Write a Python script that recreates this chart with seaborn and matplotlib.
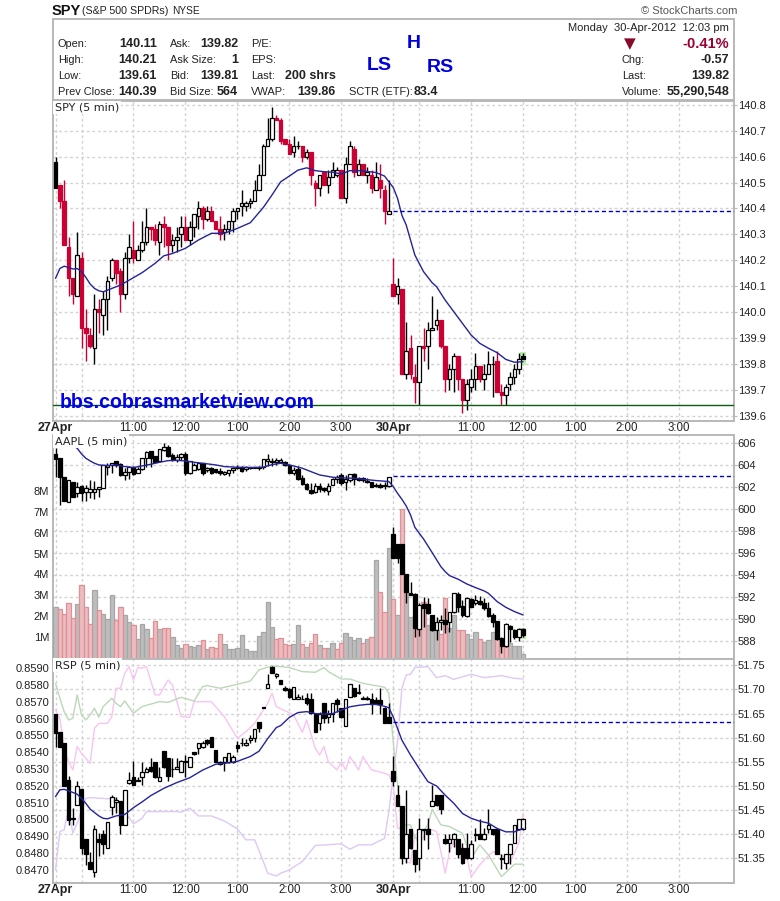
import matplotlib
matplotlib.use("Agg")
import matplotlib.pyplot as plt
import numpy as np
import seaborn as sns
from matplotlib.patches import Rectangle

BARS = np.arange(109)

spy_open = [140.58,140.49,140.43,140.25,140.13,140.06,140.21,139.94,139.91,139.86,
    140.01,139.99,140.05,140.13,140.20,140.16,140.07,140.21,140.24,140.20,
    140.24,140.27,140.33,140.32,140.27,140.34,140.33,140.26,140.28,140.30,
    140.33,140.28,140.33,140.37,140.40,140.36,140.39,140.35,140.32,140.31,
    140.32,140.35,140.39,140.41,140.41,140.42,140.43,140.47,140.53,140.64,
    140.67,140.75,140.74,140.67,140.65,140.62,140.64,140.64,140.60,140.62,
    140.50,140.48,140.54,140.49,140.52,140.53,140.55,140.44,140.57,140.63,
    140.53,140.57,140.53,140.53,140.47,140.51,140.47,140.38,140.11,140.07,
    140.09,139.76,139.86,139.75,139.73,139.87,139.87,139.93,139.95,139.97,
    139.87,139.74,139.78,139.83,139.74,139.66,139.71,139.74,139.79,139.74,
    139.76,139.80,139.81,139.69,139.68,139.72,139.75,139.78,139.83]
spy_close = [140.48,140.43,140.26,140.13,140.07,140.22,139.94,139.92,139.87,140.01,
    140.00,140.05,140.12,140.20,140.15,140.07,140.21,140.25,140.21,140.24,
    140.27,140.33,140.32,140.28,140.34,140.33,140.26,140.28,140.29,140.33,
    140.28,140.33,140.38,140.40,140.36,140.39,140.35,140.32,140.30,140.32,
    140.35,140.39,140.40,140.42,140.42,140.43,140.47,140.53,140.64,140.67,
    140.75,140.74,140.66,140.65,140.61,140.64,140.64,140.60,140.62,140.53,
    140.48,140.53,140.49,140.52,140.55,140.55,140.44,140.57,140.64,140.54,
    140.57,140.53,140.54,140.48,140.52,140.48,140.39,140.39,140.06,140.10,
    139.76,139.85,139.76,139.73,139.87,139.86,139.93,139.94,139.97,139.87,
    139.74,139.78,139.83,139.74,139.66,139.72,139.74,139.79,139.74,139.76,
    139.80,139.80,139.69,139.68,139.71,139.75,139.78,139.82,139.82]
spy_high = [140.60,140.49,140.51,140.29,140.13,140.31,140.23,140.01,139.94,140.07,
    140.05,140.08,140.14,140.21,140.20,140.17,140.23,140.30,140.35,140.26,
    140.35,140.40,140.33,140.34,140.35,140.37,140.33,140.30,140.33,140.37,
    140.37,140.35,140.38,140.43,140.41,140.41,140.41,140.35,140.37,140.34,
    140.35,140.40,140.40,140.47,140.43,140.44,140.51,140.57,140.65,140.75,
    140.79,140.76,140.75,140.67,140.67,140.68,140.66,140.64,140.63,140.62,
    140.51,140.53,140.54,140.55,140.58,140.56,140.55,140.60,140.66,140.64,
    140.59,140.57,140.56,140.55,140.58,140.57,140.49,140.51,140.21,140.13,
    140.09,139.96,139.91,139.80,139.87,139.94,139.96,140.06,140.01,139.97,
    139.87,139.80,139.84,139.83,139.74,139.74,139.78,139.84,139.79,139.80,
    139.85,139.83,139.85,139.72,139.72,139.77,139.80,139.84,139.84]
spy_low = [140.48,140.40,140.26,140.06,140.03,140.06,139.86,139.81,139.86,139.80,
    139.92,139.91,139.93,140.12,140.11,140.00,140.05,140.19,140.19,140.20,
    140.23,140.26,140.28,140.26,140.22,140.25,140.20,140.23,140.23,140.25,
    140.28,140.26,140.29,140.32,140.32,140.35,140.35,140.32,140.28,140.28,
    140.30,140.31,140.36,140.37,140.39,140.40,140.43,140.47,140.53,140.64,
    140.66,140.74,140.65,140.65,140.61,140.60,140.63,140.58,140.59,140.49,
    140.41,140.45,140.49,140.46,140.52,140.52,140.44,140.42,140.57,140.52,
    140.53,140.53,140.50,140.46,140.47,140.44,140.34,140.38,140.06,140.03,
    139.76,139.74,139.74,139.65,139.64,139.81,139.78,139.93,139.93,139.86,
    139.69,139.70,139.69,139.70,139.61,139.62,139.69,139.70,139.73,139.70,
    139.76,139.67,139.69,139.64,139.64,139.70,139.72,139.76,139.82]
spy_ma_bar = [0,1,2,3,4,5,6,7,8,9,10,11,13,15,17,20,23,25,27,30,33,36,39,42,45,48,50,52,54,56,
    58,60,62,64,66,68,70,72,74,76,78,79,80,81,82,83,85,87,88,90,92,94,96,98,100,102,104,106,108]
spy_ma = [140.130,140.168,140.177,140.172,140.166,140.168,140.156,140.134,140.108,140.091,
    140.082,140.078,140.091,140.104,140.123,140.152,140.188,140.217,140.226,140.246,
    140.278,140.304,140.304,140.323,140.345,140.404,140.452,140.503,140.525,140.548,
    140.557,140.546,140.542,140.540,140.533,140.546,140.546,140.543,140.539,140.525,
    140.481,140.439,140.374,140.336,140.278,140.220,140.156,140.113,140.098,140.046,
    140.001,139.956,139.911,139.879,139.860,139.843,139.817,139.806,139.808]

aapl_open = [605.03,604.64,602.97,600.70,602.45,601.45,602.15,601.61,601.61,601.61,
    601.82,601.91,603.82,604.03,604.42,604.09,603.12,603.42,603.82,603.27,
    603.64,604.64,605.30,604.85,604.42,605.39,605.70,604.94,604.48,604.73,
    605.03,603.27,603.58,603.64,604.18,603.58,603.79,603.64,603.52,603.21,
    603.27,603.58,603.73,603.82,603.64,603.73,603.73,603.73,603.82,604.36,
    604.27,604.27,604.27,604.33,604.03,603.33,603.64,602.82,602.30,601.76,
    601.61,602.15,601.91,601.70,602.21,602.73,603.12,602.45,602.67,603.18,
    602.82,602.82,602.61,602.45,602.21,602.21,602.12,602.15,597.76,596.85,
    596.85,594.12,592.36,592.30,589.12,591.39,591.39,590.39,589.03,589.79,
    589.94,589.79,590.64,592.27,591.21,590.33,591.82,591.45,591.67,591.52,
    591.00,590.39,589.85,588.27,587.61,589.42,589.03,588.42,589.09]
aapl_close = [604.58,602.97,600.76,602.67,601.15,602.06,601.45,601.91,601.85,601.85,
    602.00,604.03,604.03,604.24,604.06,603.09,603.42,603.82,603.18,603.64,
    604.64,605.18,604.70,604.33,605.45,605.70,604.88,604.48,604.79,605.03,
    603.27,604.42,604.03,604.18,603.27,603.79,603.33,603.42,603.27,603.42,
    603.58,603.73,603.82,603.52,603.82,603.82,603.82,603.82,604.55,604.55,
    604.42,604.48,604.48,604.03,603.33,603.58,602.76,602.27,601.85,601.52,
    602.15,601.85,601.76,602.15,602.73,602.97,602.42,602.73,603.18,602.73,
    602.67,602.67,602.45,602.06,602.12,602.06,602.21,602.97,595.55,595.55,
    594.09,592.52,592.21,589.18,591.30,591.00,590.55,589.03,589.79,589.94,
    589.55,590.64,592.36,591.15,590.39,591.91,591.15,591.76,591.39,591.00,
    590.33,589.79,588.21,587.61,589.58,589.09,588.36,589.09,588.58]
aapl_high = [605.55,604.64,602.97,602.67,602.52,602.52,602.21,602.21,602.67,602.61,
    602.00,604.03,604.18,604.24,604.42,604.18,603.73,603.94,603.94,603.82,
    604.64,605.33,605.33,604.85,605.45,606.06,605.85,605.09,605.03,605.15,
    605.18,604.42,604.18,604.18,604.18,603.88,603.82,603.70,603.73,603.52,
    603.58,603.82,604.03,603.94,603.94,603.88,603.82,603.94,604.55,605.03,
    604.64,604.64,604.64,604.42,604.12,603.82,603.94,603.12,602.36,602.36,
    602.36,602.36,602.06,602.36,602.82,603.12,603.27,603.12,603.18,603.27,
    602.97,602.97,602.82,602.52,602.36,602.42,602.52,602.97,598.42,596.85,
    596.85,594.12,593.42,592.36,591.45,592.06,591.91,590.39,590.24,590.39,
    591.00,590.70,592.36,592.45,591.76,592.06,591.91,592.21,592.12,591.91,
    591.61,590.61,589.85,588.42,589.64,589.48,589.09,589.18,589.18]
aapl_low = [602.97,600.42,600.76,600.70,601.15,601.15,600.76,600.76,601.00,600.94,
    601.15,601.91,603.12,603.27,603.88,603.03,602.67,602.76,603.12,603.27,
    603.58,603.88,603.88,604.33,604.33,605.33,604.79,604.42,604.33,604.48,
    603.12,603.21,603.58,603.58,603.12,603.42,603.21,603.33,603.12,603.12,
    603.03,603.33,603.64,603.42,603.52,603.64,603.73,603.58,603.64,603.94,
    603.94,604.03,604.18,603.94,603.27,603.12,602.67,602.21,601.76,601.39,
    601.52,601.61,601.61,601.30,602.21,602.36,602.21,601.76,602.52,602.21,
    602.61,602.45,602.36,602.00,602.00,601.91,601.82,602.00,595.55,595.09,
    594.09,591.52,592.21,588.42,588.52,589.33,590.48,588.97,588.12,589.03,
    588.79,588.88,590.61,590.70,590.18,590.24,591.09,591.30,591.30,590.85,
    590.24,589.33,588.12,586.97,587.52,587.97,588.18,588.06,588.42]
aapl_ma_bar = [0,2,4,5,6,7,8,9,10,11,12,14,16,18,20,22,24,26,28,30,32,34,37,39,42,45,48,50,52,55,57,59,
    61,64,66,69,71,74,77,78,79,80,81,82,83,85,87,89,90,91,93,95,97,99,100,102,104,106,108]
aapl_ma = [607.90,606.76,605.76,605.55,605.03,604.64,604.39,604.18,604.03,604.00,603.97,604.03,
    603.88,603.79,603.94,604.09,604.27,604.42,604.45,604.39,604.27,604.18,604.03,603.88,
    603.82,603.79,603.82,604.06,604.18,603.94,603.73,603.42,603.12,602.91,602.85,602.82,
    602.73,602.61,602.52,602.06,601.45,600.91,600.30,599.48,598.36,597.30,596.06,594.79,
    594.33,593.97,593.64,593.21,592.88,592.58,592.36,591.61,591.09,590.70,590.39]
aapl_volume = [2.47,2.38,2.15,2.66,1.95,2.62,3.54,2.47,1.66,3.29,
    2.33,2.14,1.90,3.05,1.87,2.47,2.09,1.77,1.61,0.94,
    1.66,1.42,0.99,1.80,1.44,1.47,1.47,1.04,0.65,0.51,
    0.70,0.61,0.56,0.67,0.89,0.46,0.56,0.51,1.18,0.70,
    0.46,0.48,0.51,1.13,0.46,0.37,0.37,1.08,1.29,2.71,
    1.52,0.94,0.99,0.70,0.65,0.70,1.61,0.70,0.56,0.75,
    1.18,0.65,0.51,0.51,0.75,0.49,0.75,1.23,1.04,0.89,
    0.99,0.75,0.94,1.04,4.72,3.19,2.23,5.30,2.85,2.09,
    7.16,3.43,1.99,1.52,1.60,2.74,1.63,1.87,1.39,1.18,
    2.90,1.47,2.09,1.39,1.39,1.18,0.97,1.29,0.94,0.80,
    0.89,1.29,0.94,0.67,0.59,0.75,0.61,0.61,0.24]
volume_down_bars = [1,2,3,4,6,7,8,10,14,15,18,22,23,25,26,30,34,36,37,38,51,52,53,54,57,59,60,62,65,66,
    71,73,75,76,78,80,83,85,89,90,93,94,98,102,103,104]

rsp_open = [51.650,51.611,51.590,51.512,51.433,51.460,51.493,51.390,51.342,51.321,
    51.391,51.400,51.371,51.457,51.467,51.469,51.420,51.507,51.519,51.512,
    51.519,51.529,51.540,51.550,51.511,51.572,51.558,51.536,51.536,51.529,
    51.552,51.540,51.570,51.579,51.581,51.595,51.601,51.574,51.545,51.549,
    51.550,51.549,51.585,51.588,51.584,51.595,51.600,51.632,51.663,51.702,
    51.747,51.728,51.719,51.702,51.701,51.681,51.681,51.681,51.683,51.681,
    51.650,51.631,51.671,51.642,51.650,51.678,51.661,51.624,51.685,51.702,
    51.692,51.683,51.683,51.681,51.678,51.679,51.661,51.643,51.531,51.481,
    51.458,51.350,51.411,51.367,51.350,51.409,51.411,51.459,51.481,51.481,
    51.390,51.381,51.390,51.390,51.371,51.371,51.350,51.400,51.400,51.390,
    51.411,51.411,51.411,51.350,51.340,51.360,51.381,51.411,51.411]
rsp_close = [51.610,51.581,51.500,51.429,51.431,51.500,51.371,51.360,51.329,51.411,
    51.383,51.380,51.425,51.478,51.471,51.420,51.491,51.512,51.501,51.511,
    51.529,51.536,51.531,51.519,51.519,51.540,51.521,51.535,51.540,51.552,
    51.550,51.561,51.566,51.590,51.590,51.590,51.581,51.550,51.550,51.561,
    51.569,51.561,51.579,51.590,51.590,51.600,51.619,51.621,51.661,51.712,
    51.735,51.731,51.712,51.699,51.685,51.705,51.685,51.680,51.671,51.652,
    51.612,51.650,51.641,51.650,51.671,51.670,51.642,51.681,51.712,51.687,
    51.695,51.681,51.681,51.670,51.670,51.670,51.631,51.631,51.510,51.459,
    51.350,51.400,51.371,51.338,51.411,51.411,51.400,51.469,51.460,51.452,
    51.381,51.390,51.400,51.360,51.340,51.350,51.379,51.398,51.390,51.400,
    51.420,51.400,51.360,51.349,51.360,51.380,51.420,51.431,51.431]
rsp_high = [51.650,51.611,51.590,51.521,51.455,51.510,51.493,51.390,51.364,51.420,
    51.402,51.409,51.425,51.481,51.478,51.469,51.491,51.529,51.552,51.519,
    51.550,51.540,51.557,51.550,51.540,51.572,51.558,51.558,51.557,51.554,
    51.565,51.561,51.570,51.590,51.593,51.598,51.602,51.574,51.552,51.561,
    51.569,51.564,51.593,51.600,51.598,51.605,51.619,51.632,51.663,51.732,
    51.749,51.733,51.719,51.707,51.702,51.705,51.690,51.688,51.692,51.692,
    51.650,51.654,51.671,51.657,51.671,51.683,51.661,51.681,51.712,51.703,
    51.712,51.687,51.687,51.692,51.685,51.702,51.664,51.671,51.563,51.502,
    51.458,51.492,51.411,51.367,51.433,51.411,51.433,51.503,51.481,51.481,
    51.400,51.400,51.402,51.390,51.381,51.402,51.388,51.412,51.431,51.412,
    51.452,51.411,51.411,51.360,51.360,51.380,51.420,51.431,51.433]
rsp_low = [51.581,51.581,51.500,51.419,51.419,51.460,51.359,51.336,51.329,51.312,
    51.354,51.359,51.371,51.440,51.443,51.401,51.420,51.505,51.501,51.510,
    51.502,51.529,51.529,51.516,51.511,51.538,51.510,51.519,51.535,51.529,
    51.519,51.540,51.564,51.567,51.579,51.585,51.581,51.549,51.543,51.532,
    51.547,51.547,51.571,51.583,51.583,51.590,51.592,51.611,51.661,51.702,
    51.733,51.723,51.712,51.696,51.683,51.681,51.681,51.680,51.667,51.650,
    51.611,51.616,51.631,51.631,51.633,51.654,51.641,51.624,51.685,51.685,
    51.690,51.680,51.678,51.650,51.669,51.650,51.630,51.630,51.500,51.459,
    51.338,51.340,51.369,51.321,51.326,51.388,51.369,51.459,51.459,51.442,
    51.380,51.364,51.374,51.350,51.338,51.349,51.349,51.385,51.390,51.388,
    51.402,51.398,51.360,51.329,51.327,51.338,51.381,51.409,51.409]
rsp_ma_bar = [0,1,2,3,5,6,7,8,10,11,12,14,16,18,20,22,25,28,31,34,37,40,42,45,47,49,51,52,54,56,
    58,60,62,64,66,68,70,72,74,76,77,78,79,80,82,84,86,88,90,92,94,96,98,100,102,104,106,108]
rsp_ma = [51.478,51.492,51.493,51.490,51.483,51.474,51.464,51.452,51.438,51.433,51.432,51.438,
    51.441,51.455,51.467,51.480,51.495,51.507,51.517,51.533,51.545,51.548,51.551,51.561,
    51.572,51.598,51.621,51.625,51.642,51.652,51.654,51.650,51.649,51.650,51.657,51.664,
    51.667,51.669,51.669,51.665,51.662,51.643,51.619,51.595,51.564,51.536,51.509,51.500,
    51.481,51.464,51.443,51.433,51.427,51.423,51.412,51.405,51.405,51.412]

green_bar = [0,1,2,3,4,5,6,7,8,9,10,11,13,14,15,16,18,20,24,26,29,32,34,35,38,42,45,47,50,52,
    54,57,60,62,63,66,68,71,73,76,77,78,79,80,82,83,84,86,87,89,91,94,96,98,100,103,106,108]
green_line = [.85816,.85727,.85648,.85598,.85608,.85747,.85628,.85598,.85628,.85668,.85614,.85678,
    .85727,.85697,.85678,.85711,.85638,.85678,.85707,.85703,.85733,.85711,.85797,.85803,
    .85787,.85810,.85830,.85896,.85920,.85916,.85910,.85886,.85882,.85910,.85886,.85842,
    .85842,.85816,.85807,.85793,.85757,.85469,.85208,.84974,.84974,.84894,.84904,.84974,
    .85067,.84974,.84964,.84924,.84775,.84855,.84795,.84666,.84740,.84740]
pink_bar = [0,1,2,3,4,5,6,8,9,10,12,13,14,15,16,17,18,19,20,21,23,24,26,27,29,31,32,36,39,42,44,46,48,49,
    50,51,55,57,58,60,61,62,63,65,66,67,68,70,71,73,76,77,78,79,80,81,82,83,84,86,88,89,90,91,92,94,95,96,98,99,
    101,103,105,107,108]
pink_line = [.85658,.85608,.85430,.85350,.85301,.85440,.85400,.85340,.85549,.85578,.85578,.85618,
    .85787,.85787,.85876,.85916,.85836,.85910,.85906,.85916,.85747,.85747,.85836,.85807,
    .85618,.85614,.85707,.85707,.85618,.85489,.85529,.85578,.85658,.85697,.85757,.85678,
    .85628,.85525,.85598,.85430,.85390,.85440,.85350,.85301,.85350,.85301,.85380,.85301,
    .85380,.85301,.85281,.85271,.85212,.84954,.84954,.84756,.84746,.84914,.84855,.84954,
    .84934,.84815,.84686,.84815,.84875,.84756,.84785,.84666,.84736,.84765,.84815,.84795,
    .84746,.84864,.85043]
purple_bar = [0,1,2,3,4,5,7,8,13,14,16,18,20,21,28,29,31,33,36,39,42,44,46,48,49,51,52,
    54,57,60,66,68,70,73,76,77,78,79,80,81,82,83,86,88,90,92,96,99,103,106,108]
purple_line = [.84706,.84934,.84944,.85073,.84924,.84984,.85132,.85136,.85128,.85128,.85053,.84980,
    .85013,.85053,.85053,.85049,.85073,.85027,.85027,.84997,.84950,.84885,.84885,.84756,
    .84686,.84670,.84686,.84706,.84756,.84851,.84861,.84829,.84855,.84855,.84894,.85053,
    .85271,.85469,.85787,.85866,.85870,.85910,.85916,.85850,.85862,.85840,.85870,.85850,
    .85862,.85846,.85842]

tick_bars = [0, 6, 18, 30, 42, 54, 66, 78, 84, 96, 108, 120, 132, 144]
tick_labels = ["27Apr", "", "11:00", "12:00", "1:00", "2:00", "3:00", "30Apr", "", "11:00", "12:00", "1:00", "2:00", "3:00"]
spy_ticks = [139.6,139.7,139.8,139.9,140.0,140.1,140.2,140.3,140.4,140.5,140.6,140.7,140.8]
aapl_ticks = [588,590,592,594,596,598,600,602,604,606]
volume_ticks = [1,2,3,4,5,6,7,8]
rsp_ticks = [51.35,51.40,51.45,51.50,51.55,51.60,51.65,51.70,51.75]
ratio_ticks = [.847,.848,.849,.850,.851,.852,.853,.854,.855,.856,.857,.858,.859]

header_labels = [("Open:",58,44),("High:",58,60),("Low:",58,76),("Prev Close:",58,92),
    ("Ask:",170,44),("Ask Size:",170,60),("Bid:",170,76),("Bid Size:",170,92),
    ("P/E:",251,44),("EPS:",251,60),("Last:",251,76),("VWAP:",251,92),("SCTR (ETF):",349,92),
    ("Chg:",622,60),("Last:",622,76),("Volume:",622,92)]
header_values = [("140.11",157,44),("140.21",157,60),("139.61",157,76),("140.39",157,92),
    ("139.82",238,44),("1",238,60),("139.81",238,76),("564",238,92),
    ("200 shrs",336,76),("139.86",336,92),("83.4",438,92),
    ("-0.57",729,60),("139.82",729,76),("55,290,548",729,92)]

FIG_W, FIG_H = 780, 901
LEFT, RIGHT = 52.5, 733.5
XMAX = 156.6
RED = "#cc0033"
BLUE_MA = "#24249a"
GRID = "#d2d2d2"
FRAME = "#b8b8b8"


def fx(x):
    return x / FIG_W


def fy(y):
    return 1 - y / FIG_H


def new_axes(fig, top, bottom, **kw):
    return fig.add_axes([fx(LEFT), fy(bottom), fx(RIGHT - LEFT), (bottom - top) / FIG_H], **kw)


def style_frame(ax):
    for side in ax.spines.values():
        side.set_color(FRAME)
        side.set_linewidth(1.4)


def draw_candles(ax, o, h, l, c, down_color):
    o, h, l, c = map(np.array, (o, h, l, c))
    prev = np.r_[c[0] - 1, c[:-1]]
    edge = [down_color if cl < pr else "black" for cl, pr in zip(c, prev)]
    face = [e if cl < op else "white" for e, cl, op in zip(edge, c, o)]
    ax.vlines(BARS, l, h, colors=edge, linewidth=1.0, zorder=3)
    ax.bar(BARS, np.abs(c - o), bottom=np.minimum(o, c), width=0.82, color=face,
           edgecolor=edge, linewidth=0.9, zorder=4)


def price_panel(fig, top, bottom, ylim, ticks, fmt, show_dates=True):
    """base axes holding the grid, the frame and the right hand price scale"""
    ax = new_axes(fig, top, bottom)
    ax.set_xlim(-0.7, XMAX)
    ax.set_ylim(*ylim)
    ax.yaxis.tick_right()
    ax.set_yticks(ticks, [fmt % t for t in ticks])
    ax.set_xticks(tick_bars, tick_labels if show_dates else [""] * len(tick_bars))
    ax.grid(True, color=GRID, linestyle=(0, (2, 2)), linewidth=1)
    ax.set_axisbelow(True)
    ax.tick_params(axis="y", length=2, width=0.8, color=FRAME, labelsize=8, pad=1, labelcolor="#222222")
    ax.tick_params(axis="x", length=0, labelsize=8.3, pad=1, labelcolor="#222222")
    for lab in ax.get_xticklabels():
        if "Apr" in lab.get_text():
            lab.set_fontweight("bold")
            lab.set_fontsize(9)
    style_frame(ax)
    return ax


def overlay(ax):
    over = ax.figure.add_axes(ax.get_position(), sharex=ax)
    over.set_ylim(ax.get_ylim())
    over.patch.set_visible(False)
    over.axis("off")
    return over


def panel_name(ax, text):
    ax.text(0.0035, 0.995, text, transform=ax.transAxes, ha="left", va="top", fontsize=8,
            family="DejaVu Sans", color="#222222", zorder=9,
            bbox=dict(facecolor="white", edgecolor="none", pad=1.2))


def blue_ma(ax, bars, values):
    sns.lineplot(x=bars, y=values, ax=ax, color=BLUE_MA, linewidth=1.0, sort=False,
                 estimator=None, legend=False, zorder=5)
    ax.set_xlabel("")
    ax.set_ylabel("")


def green_box(ax, lo, hi):
    ax.bar([108], [hi - lo], bottom=lo, width=1.5, color="#b9f0a6", edgecolor="none", zorder=2)


sns.set_theme(style="white")
plt.rcParams["font.family"] = ["Liberation Sans", "DejaVu Sans"]

fig = plt.figure(figsize=(FIG_W / 100, FIG_H / 100), dpi=100, facecolor="white")

# header block
fig.add_artist(Rectangle((fx(LEFT), fy(100)), fx(RIGHT - LEFT), 81 / FIG_H, transform=fig.transFigure,
                         facecolor="white", edgecolor=FRAME, linewidth=1.4))
fig.text(fx(52), fy(11), "SPY", fontsize=10.5, fontweight="bold", va="center", color="#111111")
fig.text(fx(82), fy(11), "(S&P 500 SPDRs)", fontsize=7.7, va="center", color="#222222")
fig.text(fx(172), fy(11), "NYSE", fontsize=7.3, va="center", color="#222222")
fig.text(fx(737), fy(11), "© StockCharts.com", fontsize=8, va="center", ha="right", color="#555555")
fig.text(fx(729), fy(28), "Monday  30-Apr-2012  12:03 pm", fontsize=8, va="center", ha="right", color="#222222")
for text, x, y in header_labels:
    fig.text(fx(x), fy(y), text, fontsize=7.9, va="center", color="#222222")
for text, x, y in header_values:
    fig.text(fx(x), fy(y), text, fontsize=9, fontweight="bold", va="center", ha="right", color="#222222")
fig.text(fx(729), fy(44), "-0.41%", fontsize=10.5, fontweight="bold", va="center", ha="right", color="#990033")
fig.text(fx(630), fy(44), "▼", fontsize=11, va="center", ha="center", color="#880a2a", family="DejaVu Sans")
fig.text(fx(414), fy(44), "H", fontsize=14, fontweight="bold", va="center", ha="center", color="#0000dd")
fig.text(fx(379), fy(66), "LS", fontsize=14, fontweight="bold", va="center", ha="center", color="#0000dd")
fig.text(fx(440), fy(68), "RS", fontsize=14, fontweight="bold", va="center", ha="center", color="#0000dd")

# SPY panel
ax1 = price_panel(fig, 100.5, 421, (139.579, 140.817), spy_ticks, "%.1f")
top1 = overlay(ax1)
green_box(top1, 139.795, 139.845)
draw_candles(top1, spy_open, spy_high, spy_low, spy_close, RED)
blue_ma(top1, spy_ma_bar, spy_ma)
top1.hlines(140.39, 78, XMAX, color="#0000cc", linestyle=(0, (3, 2)), linewidth=1, zorder=5)
top1.axhline(139.64, color="#0b5d12", linewidth=1, zorder=6)
top1.text(1, 139.652, "bbs.cobrasmarketview.com", fontsize=14.05, fontweight="bold", color="#0000ee",
          va="center", ha="left", zorder=7)
top1.axis("off")
panel_name(top1, "SPY (5 min)")

# AAPL panel, volume underneath
ax2 = price_panel(fig, 435, 659, (586.39, 606.75), aapl_ticks, "%d", show_dates=False)
vol = overlay(ax2)
vol.set_ylim(0, 10.72)
vol_side = ["down" if b in volume_down_bars else "up" for b in BARS]
sns.barplot(x=BARS, y=aapl_volume, hue=vol_side, palette={"down": "#ebbcc0", "up": "#bdbdbd"},
            native_scale=True, dodge=False, width=1, gap=0, legend=False, ax=vol, linewidth=0.9, zorder=2,
            saturation=1, err_kws={"linewidth": 0})
for bar in vol.patches:
    red_bar = bar.get_facecolor()[1] < 0.76 and bar.get_facecolor()[0] > 0.85
    bar.set_edgecolor("#dd9096" if red_bar else "#a6a6a6")
vol.set_xlim(-0.7, XMAX)
vol.set_ylim(0, 10.72)
vol.set_xlabel("")
vol.set_ylabel("")
vol.axis("off")
for v in volume_ticks:
    vol.text(-0.005, v, "%dM" % v, transform=vol.get_yaxis_transform(), ha="right", va="center",
             fontsize=8, color="#222222")
top2 = overlay(ax2)
green_box(top2, 588.18, 589.24)
draw_candles(top2, aapl_open, aapl_high, aapl_low, aapl_close, "black")
blue_ma(top2, aapl_ma_bar, aapl_ma)
top2.hlines(603.0, 78, XMAX, color="#0000cc", linestyle=(0, (3, 2)), linewidth=1, zorder=5)
top2.set_ylim(586.39, 606.75)
top2.axis("off")
panel_name(top2, "AAPL (5 min)")

# RSP panel, ratio overlays on the left scale
ax3 = price_panel(fig, 659, 883, (51.299, 51.763), rsp_ticks, "%.2f")
ratio = overlay(ax3)
ratio.set_ylim(0.84628, 0.85961)
for bars, vals, col in [(purple_bar, purple_line, "#dfc8f4"), (pink_bar, pink_line, "#f8c4f2"),
                        (green_bar, green_line, "#bcd8b8")]:
    sns.lineplot(x=bars, y=vals, ax=ratio, color=col, linewidth=1.0, sort=False, estimator=None, legend=False)
ratio.set_xlabel("")
ratio.set_ylabel("")
ratio.axis("off")
for v in ratio_ticks:
    ratio.text(-0.005, v, "%.4f" % v, transform=ratio.get_yaxis_transform(), ha="right", va="center",
               fontsize=8, color="#222222")
top3 = overlay(ax3)
green_box(top3, 51.408, 51.432)
draw_candles(top3, rsp_open, rsp_high, rsp_low, rsp_close, "black")
blue_ma(top3, rsp_ma_bar, rsp_ma)
top3.hlines(51.632, 78, XMAX, color="#0000cc", linestyle=(0, (3, 2)), linewidth=1, zorder=5)
top3.set_ylim(51.299, 51.763)
top3.axis("off")
panel_name(top3, "RSP (5 min)")

fig.savefig("out.png", dpi=100)
